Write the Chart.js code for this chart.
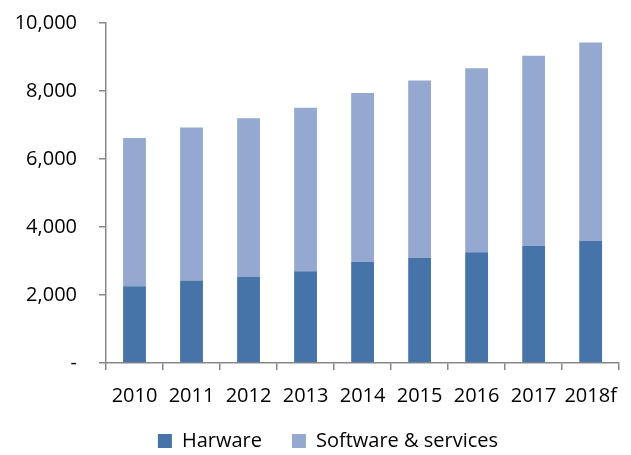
<!DOCTYPE html>
<html>
<head>
<meta charset="utf-8">
<script src="https://cdn.jsdelivr.net/npm/chart.js@4/dist/chart.umd.min.js"></script>
<style>
  html, body { margin: 0; padding: 0; background: #fff; }
  #wrap { width: 631px; height: 455px; }
</style>
</head>
<body>
<div id="wrap"><canvas id="c" width="631" height="455"></canvas></div>
<script>
const categories = ['2010', '2011', '2012', '2013', '2014', '2015', '2016', '2017', '2018f'];
const hardware = [2260, 2430, 2530, 2700, 2970, 3090, 3260, 3440, 3590];
const software = [4360, 4500, 4670, 4810, 4970, 5220, 5410, 5600, 5840];
const seriesNames = ['Harware', 'Software & services'];
const yTicks = [0, 2000, 4000, 6000, 8000, 10000];

const FONT = "'Open Sans', 'Liberation Sans', sans-serif";
const AXIS = '#878787';

const legendTweak = {
  id: 'legendTweak',
  beforeLayout(chart) {
    const lg = chart.legend;
    if (lg && !lg._wrapped) {
      const orig = lg.fit.bind(lg);
      lg.fit = function () { orig(); this.height = 30; };
      lg._wrapped = true;
    }
  },
  afterLayout(chart) {
    const lg = chart.legend;
    if (!lg) return;
    lg.left = 27;
    lg.width = lg.right - lg.left;
    lg.top = 401;
    lg.bottom = chart.height;
    lg.height = lg.bottom - lg.top;
  }
};

new Chart(document.getElementById('c'), {
  type: 'bar',
  data: {
    labels: categories,
    datasets: [
      { label: seriesNames[0], data: hardware, backgroundColor: '#4674A8', borderWidth: 0 },
      { label: seriesNames[1], data: software, backgroundColor: '#95A9D0', borderWidth: 0 }
    ]
  },
  plugins: [legendTweak],
  options: {
    responsive: false,
    animation: false,
    layout: { padding: { top: 23, right: 2, left: 0, bottom: 2 } },
    datasets: { bar: { categoryPercentage: 1, barPercentage: 0.4 } },
    scales: {
      x: {
        stacked: true,
        grid: { display: true, drawOnChartArea: false, offset: true, tickLength: 7, color: AXIS, lineWidth: 1.5 },
        border: { display: true, color: AXIS, width: 1.5 },
        ticks: { color: '#000', font: { family: FONT, size: 20 }, padding: 14, maxRotation: 0, autoSkip: false },
        afterFit: s => { s.height = 60; }
      },
      y: {
        stacked: true,
        min: 0,
        max: 10000,
        afterBuildTicks: s => { s.ticks = yTicks.map(v => ({ value: v })); },
        grid: { display: true, drawOnChartArea: false, tickLength: 7, color: AXIS, lineWidth: 1.5 },
        border: { display: true, color: AXIS, width: 1.5 },
        ticks: {
          color: '#000',
          font: { family: FONT, size: 20 },
          padding: 22,
          callback: v => v === 0 ? '-' : v.toLocaleString('en-US')
        },
        afterFit: s => { s.width = 106; s.paddingTop = 0; s.paddingBottom = 0; }
      }
    },
    plugins: {
      legend: {
        position: 'bottom',
        labels: {
          color: '#000',
          font: { family: FONT, size: 20 },
          boxWidth: 14,
          boxHeight: 14,
          padding: 30
        }
      },
      tooltip: { enabled: false }
    }
  }
});
</script>
</body>
</html>
